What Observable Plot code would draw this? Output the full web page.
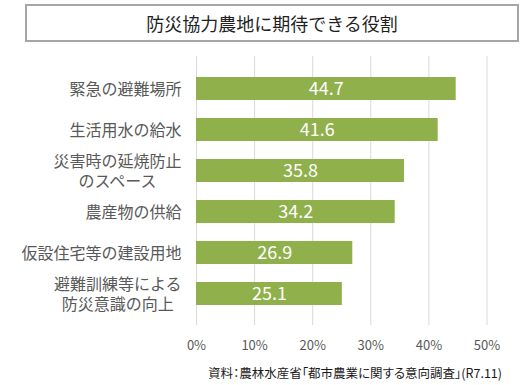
<!DOCTYPE html>
<html><head><meta charset="utf-8">
<script src="https://cdn.jsdelivr.net/npm/d3@7"></script>
<script src="https://cdn.jsdelivr.net/npm/@observablehq/plot@0.6"></script>
<style>
body{margin:0;background:#fff;width:523px;height:385px;position:relative;overflow:hidden;font-family:"Noto Sans CJK JP","Noto Sans",sans-serif;}
#title{position:absolute;left:25px;top:4px;width:490px;height:34px;border:2px solid #a6a6a6;line-height:34px;text-align:center;font-size:18px;color:#1f1f1f;}
#chart{position:absolute;left:0;top:44px;}
#caption{position:absolute;right:21px;top:365px;font-size:12.5px;line-height:16px;color:#1a1a1a;white-space:nowrap;font-feature-settings:"palt";}
</style>
</head><body>
<div id="title">防災協力農地に期待できる役割</div>
<div id="chart"></div>
<div id="caption">資料：農林水産省「都市農業に関する意向調査」(R7.11)</div>
<script>
const categories = ["緊急の避難場所","生活用水の給水","災害時の延焼防止\nのスペース","農産物の供給","仮設住宅等の建設用地","避難訓練等による\n防災意識の向上"];
const values = [44.7, 41.6, 35.8, 34.2, 26.9, 25.1];
const xTicks = [0, 10, 20, 30, 40, 50];

const data = categories.map((c, i) => ({category: c, value: values[i]}));

const chart = Plot.plot({
  width: 523,
  height: 310,
  marginLeft: 196,
  marginRight: 36.5,
  marginTop: 12,
  marginBottom: 29,
  style: {fontFamily: '"Noto Sans CJK JP","Noto Sans",sans-serif', background: "transparent"},
  x: {domain: [0, 50], ticks: xTicks},
  y: {domain: categories, padding: 0.45},
  marks: [
    Plot.gridX(xTicks, {stroke: "#d9d9d9", strokeOpacity: 1, strokeWidth: 1}),
    Plot.barX(data, {y: "category", x: "value", fill: "#8fb04b"}),
    Plot.text(data, {y: "category", x: d => d.value / 2, text: d => d.value.toFixed(1), fill: "#ffffff", fontSize: 18}),
    Plot.axisX(xTicks, {tickSize: 0, tickPadding: 15, tickFormat: d => d + "%", fontSize: 13, fill: "#595959", label: null}),
    Plot.axisY({tickSize: 0, tickPadding: 15, fontSize: 16, fill: "#595959", lineHeight: 1.25, label: null,
      fontFamily: '"DejaVu Sans","Noto Sans CJK JP",sans-serif'})
  ]
});
document.getElementById("chart").appendChild(chart);

// center multi-line category labels within their block (right edge kept)
chart.querySelectorAll('g[aria-label="y-axis tick label"] text').forEach(t => {
  const spans = t.querySelectorAll("tspan");
  if (spans.length > 1) {
    let maxW = 0;
    spans.forEach(s => { maxW = Math.max(maxW, s.getComputedTextLength()); });
    t.setAttribute("text-anchor", "middle");
    spans.forEach(s => {
      const x0 = parseFloat(s.getAttribute("x")) || 0;
      s.setAttribute("x", x0 - maxW / 2);
    });
  }
});
</script>
</body></html>
